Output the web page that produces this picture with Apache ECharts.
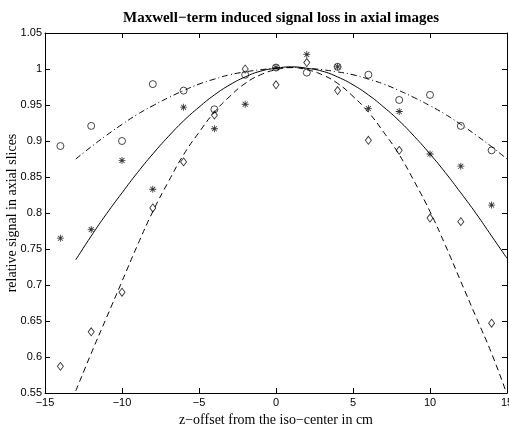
<!DOCTYPE html>
<html>
<head>
<meta charset="utf-8">
<script src="https://cdn.jsdelivr.net/npm/echarts@6/dist/echarts.min.js"></script>
<style>
  html, body { margin: 0; padding: 0; background: #fff; }
  #chart { width: 509px; height: 426px; }
</style>
</head>
<body>
<div id="chart"></div>
<script>
// Slice positions (cm) where the signal was measured
const sliceOffsets = [-14, -12, -10, -8, -6, -4, -2, 0, 2, 4, 6, 8, 10, 12, 14];

// Measured relative signal per slice, one set per marker type
const circleSignal  = [0.893, 0.921, 0.900, 0.979, 0.970, 0.944, 0.992, 1.002, 0.995, 1.003, 0.992, 0.957, 0.964, 0.921, 0.887];
const starSignal    = [0.765, 0.777, 0.873, 0.833, 0.947, 0.917, 0.951, 1.002, 1.020, 1.003, 0.945, 0.941, 0.882, 0.865, 0.811];
const diamondSignal = [0.587, 0.635, 0.690, 0.807, 0.871, 0.936, 1.000, 0.978, 1.009, 0.970, 0.901, 0.887, 0.793, 0.788, 0.647];

// Fitted curves sampled along z
const curveOffsets = [-13, -12, -11, -10, -9, -8, -7, -6, -5, -4, -3, -2, -1, 0, 1,
                      2, 3, 4, 5, 6, 7, 8, 9, 10, 11, 12, 13, 14, 15];
const solidFit   = [0.735, 0.768, 0.799, 0.828, 0.856, 0.882, 0.906, 0.928, 0.947, 0.964, 0.978, 0.989, 0.997, 1.001, 1.003,
                    1.001, 0.997, 0.989, 0.978, 0.964, 0.947, 0.928, 0.906, 0.882, 0.856, 0.828, 0.799, 0.768, 0.737];
const dashedFit  = [0.553, 0.605, 0.655, 0.705, 0.755, 0.802, 0.843, 0.881, 0.912, 0.940, 0.962, 0.980, 0.992, 0.999, 1.002,
                    0.999, 0.992, 0.980, 0.962, 0.940, 0.912, 0.881, 0.843, 0.802, 0.755, 0.705, 0.655, 0.605, 0.548];
const dashDotFit = [0.875, 0.892, 0.908, 0.923, 0.937, 0.949, 0.960, 0.970, 0.979, 0.986, 0.992, 0.996, 0.999, 1.001, 1.002,
                    1.001, 0.999, 0.996, 0.992, 0.986, 0.979, 0.970, 0.960, 0.949, 0.937, 0.923, 0.908, 0.892, 0.875];

const zip = (xs, ys) => xs.map((x, i) => [x, ys[i]]);
const minus = s => String(s).replace('-', '\u2212');

// eight-armed asterisk marker built from four thin bars
const asterisk = 'path://M-5,-0.6L5,-0.6L5,0.6L-5,0.6Z M-0.6,-5L0.6,-5L0.6,5L-0.6,5Z ' +
  'M-3.96,-3.11L-3.11,-3.96L3.96,3.11L3.11,3.96Z M3.11,-3.96L3.96,-3.11L-3.11,3.96L-3.96,3.11Z';

const sans = '"Liberation Sans", Arial, sans-serif';
const serif = '"Liberation Serif", "Times New Roman", serif';

function frameAxis() {
  return {
    axisLine: { show: true, onZero: false, lineStyle: { color: '#000', width: 1 } },
    axisTick: { show: true, inside: true, length: 5, lineStyle: { color: '#000', width: 1 } },
    splitLine: { show: false }
  };
}

const chart = echarts.init(document.getElementById('chart'), null, { renderer: 'canvas' });

chart.setOption({
  animation: false,
  backgroundColor: '#fff',
  title: {
    text: 'Maxwell\u2212term induced signal loss in axial images',
    left: 276, top: 6, textAlign: 'center',
    textStyle: { fontFamily: serif, fontWeight: 'bold', fontSize: 15, color: '#000' }
  },
  grid: { left: 45, right: 2, top: 33, bottom: 33, containLabel: false, outerBoundsMode: 'none' },
  xAxis: [
    Object.assign({
      type: 'value', min: -15, max: 15, interval: 5, position: 'bottom',
      name: 'z\u2212offset from the iso\u2212center in cm',
      nameLocation: 'middle', nameGap: 16,
      nameTextStyle: { fontFamily: serif, fontSize: 14, color: '#000' },
      axisLabel: { margin: 4, fontFamily: sans, fontSize: 11, color: '#000', formatter: v => minus(v) }
    }, frameAxis()),
    Object.assign({
      type: 'value', min: -15, max: 15, interval: 5, position: 'top',
      axisLabel: { show: false }
    }, frameAxis())
  ],
  yAxis: [
    Object.assign({
      type: 'value', min: 0.55, max: 1.05, interval: 0.05, position: 'left',
      name: 'relative signal in axial slices',
      nameLocation: 'middle', nameGap: 26, nameMoveOverlap: false,
      nameTextStyle: { fontFamily: serif, fontSize: 14, color: '#000' },
      axisLabel: { margin: 3, fontFamily: sans, fontSize: 11, color: '#000',
                   formatter: v => String(+v.toFixed(2)) }
    }, frameAxis()),
    Object.assign({
      type: 'value', min: 0.55, max: 1.05, interval: 0.05, position: 'right',
      axisLabel: { show: false }
    }, frameAxis())
  ],
  series: [
    {
      type: 'line', data: zip(curveOffsets, solidFit), smooth: true, symbol: 'none',
      lineStyle: { color: '#000', width: 1, type: 'solid' }, clip: true, z: 2
    },
    {
      type: 'line', data: zip(curveOffsets, dashedFit), smooth: true, symbol: 'none',
      lineStyle: { color: '#000', width: 1, type: [6, 4] }, clip: true, z: 2
    },
    {
      type: 'line', data: zip(curveOffsets, dashDotFit), smooth: true, symbol: 'none',
      lineStyle: { color: '#000', width: 1, type: [6, 3, 1, 3] }, clip: true, z: 2
    },
    {
      type: 'scatter', data: zip(sliceOffsets, circleSignal),
      symbol: 'circle', symbolSize: 7,
      itemStyle: { color: 'rgba(0,0,0,0)', borderColor: '#000', borderWidth: 0.9 }, z: 3
    },
    {
      type: 'scatter', data: zip(sliceOffsets, starSignal),
      symbol: asterisk, symbolSize: 7,
      itemStyle: { color: '#000', borderWidth: 0 }, z: 3
    },
    {
      type: 'scatter', data: zip(sliceOffsets, diamondSignal),
      symbol: 'diamond', symbolSize: [6, 8],
      itemStyle: { color: 'rgba(0,0,0,0)', borderColor: '#000', borderWidth: 0.9 }, z: 3
    }
  ]
});
</script>
</body>
</html>
